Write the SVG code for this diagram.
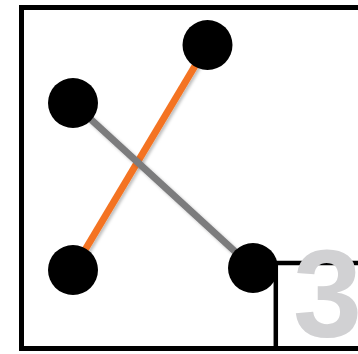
<svg xmlns="http://www.w3.org/2000/svg" width="358" height="354" viewBox="0 0 358 354">
<defs>
<filter id="sh" x="-20%" y="-20%" width="140%" height="140%">
<feDropShadow dx="2" dy="2" stdDeviation="1.5" flood-color="#000" flood-opacity="0.25"/>
</filter>
<style>
.frame{fill:#fff;stroke:#000;stroke-width:5}
.box{fill:none;stroke:#000;stroke-width:4.5}
.node{fill:#000}
.edge{stroke-width:7;stroke-linecap:butt;filter:url(#sh)}
.num{font-family:"Liberation Sans",Arial,sans-serif;font-weight:bold;font-size:124px;fill:#d1d1d3}
</style>
</defs>
<rect class="frame" x="21.5" y="7.5" width="345" height="341"/>
<g id="connectors">
<line class="edge" x1="207.5" y1="45" x2="73" y2="270" stroke="#f47321"/>
<line class="edge" x1="73" y1="103" x2="253" y2="268" stroke="#7b7b7d"/>
</g>
<g id="corner-box">
<line class="box" x1="253" y1="263" x2="365" y2="263"/>
<line class="box" x1="275.8" y1="263" x2="275.8" y2="348"/>
</g>
<text class="num" x="293" y="337">3</text>
<g id="node-top"><circle class="node" cx="207.5" cy="45" r="25"/></g>
<g id="node-left-upper"><circle class="node" cx="73" cy="103" r="25"/></g>
<g id="node-left-lower"><circle class="node" cx="73" cy="270" r="25"/></g>
<g id="node-right-lower"><circle class="node" cx="253" cy="268" r="25"/></g>
</svg>
